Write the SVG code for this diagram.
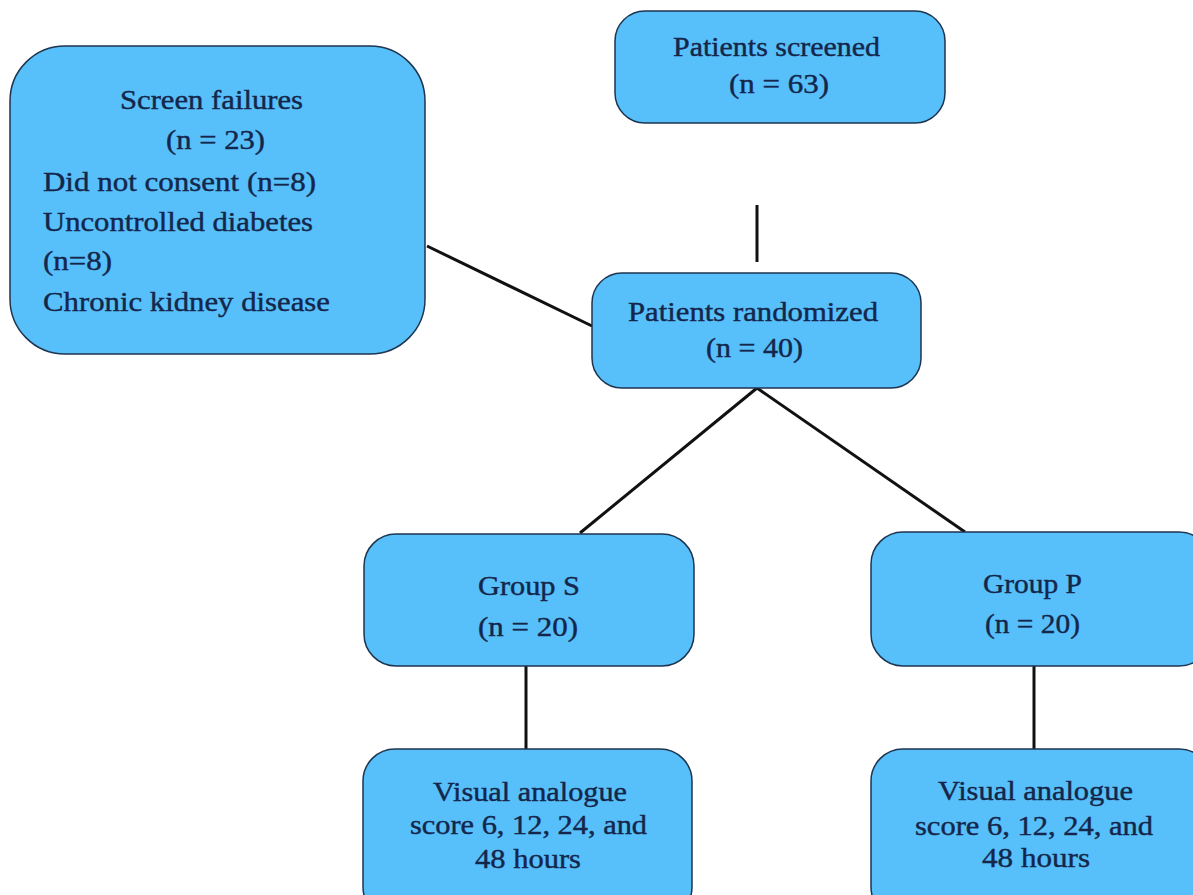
<svg xmlns="http://www.w3.org/2000/svg" width="1193" height="895" viewBox="0 0 1193 895">
<style>
.box{fill:#57bffa;stroke:#1e3550;stroke-width:1.5}
.t{font-family:"Liberation Serif","Times New Roman",serif;font-size:27px;fill:#14264a;stroke:#14264a;stroke-width:0.4}
.c{text-anchor:middle}
.ln{stroke:#111;stroke-width:3;fill:none}
</style>
<rect width="1193" height="895" fill="#fff"/>
<g id="connectors">
<line class="ln" x1="757" y1="205" x2="757" y2="262"/>
<line class="ln" x1="427" y1="246" x2="592" y2="326"/>
<line class="ln" x1="757" y1="388" x2="580" y2="533"/>
<line class="ln" x1="757" y1="388" x2="965" y2="532"/>
<line class="ln" x1="526" y1="666" x2="526" y2="749"/>
<line class="ln" x1="1034" y1="666" x2="1034" y2="749"/>
</g>
<g id="screen-failures">
<rect class="box" x="10" y="46" width="415" height="308" rx="55"/>
<text class="t c" x="211.5" y="109" textLength="183" lengthAdjust="spacingAndGlyphs">Screen failures</text>
<text class="t c" x="215.5" y="149" textLength="99" lengthAdjust="spacingAndGlyphs">(n = 23)</text>
<text class="t" x="43" y="191" textLength="273" lengthAdjust="spacingAndGlyphs">Did not consent (n=8)</text>
<text class="t" x="43" y="231" textLength="270" lengthAdjust="spacingAndGlyphs">Uncontrolled diabetes</text>
<text class="t" x="43" y="270" textLength="69" lengthAdjust="spacingAndGlyphs">(n=8)</text>
<text class="t" x="43" y="311" textLength="287" lengthAdjust="spacingAndGlyphs">Chronic kidney disease</text>
</g>
<g id="patients-screened">
<rect class="box" x="615" y="11" width="330" height="112" rx="30"/>
<text class="t c" x="776.5" y="56" textLength="207" lengthAdjust="spacingAndGlyphs">Patients screened</text>
<text class="t c" x="779" y="93" textLength="100" lengthAdjust="spacingAndGlyphs">(n = 63)</text>
</g>
<g id="patients-randomized">
<rect class="box" x="592" y="273" width="329" height="115" rx="30"/>
<text class="t c" x="753" y="321" textLength="250" lengthAdjust="spacingAndGlyphs">Patients randomized</text>
<text class="t c" x="754.5" y="357" textLength="97" lengthAdjust="spacingAndGlyphs">(n = 40)</text>
</g>
<g id="group-s">
<rect class="box" x="364" y="534" width="330" height="132" rx="32"/>
<text class="t c" x="529" y="595" textLength="102" lengthAdjust="spacingAndGlyphs">Group S</text>
<text class="t c" x="528" y="636" textLength="100" lengthAdjust="spacingAndGlyphs">(n = 20)</text>
</g>
<g id="group-p">
<rect class="box" x="871" y="532" width="340" height="134" rx="32"/>
<text class="t c" x="1032.5" y="593" textLength="99" lengthAdjust="spacingAndGlyphs">Group P</text>
<text class="t c" x="1032.5" y="633" textLength="95" lengthAdjust="spacingAndGlyphs">(n = 20)</text>
</g>
<g id="vas-s">
<rect class="box" x="363" y="749" width="329" height="170" rx="32"/>
<text class="t c" x="530" y="801" textLength="194" lengthAdjust="spacingAndGlyphs">Visual analogue</text>
<text class="t c" x="528.5" y="834" textLength="237" lengthAdjust="spacingAndGlyphs">score 6, 12, 24, and</text>
<text class="t c" x="528" y="868" textLength="106" lengthAdjust="spacingAndGlyphs">48 hours</text>
</g>
<g id="vas-p">
<rect class="box" x="871" y="749" width="340" height="170" rx="32"/>
<text class="t c" x="1035.5" y="800" textLength="195" lengthAdjust="spacingAndGlyphs">Visual analogue</text>
<text class="t c" x="1034" y="835" textLength="238" lengthAdjust="spacingAndGlyphs">score 6, 12, 24, and</text>
<text class="t c" x="1036" y="867" textLength="108" lengthAdjust="spacingAndGlyphs">48 hours</text>
</g>
</svg>
